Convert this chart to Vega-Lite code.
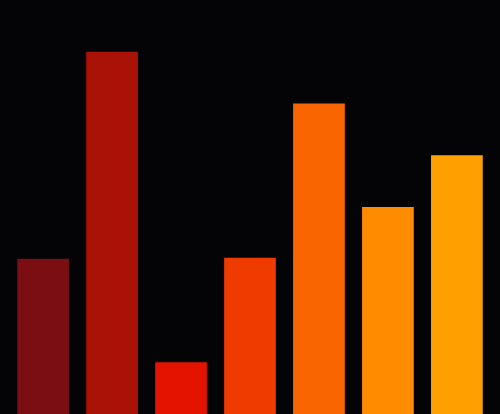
{
  "$schema": "https://vega.github.io/schema/vega-lite/v6.json",
  "autosize": {"type": "fit", "contains": "padding"},
  "width": 500,
  "height": 414,
  "padding": 0,
  "background": "#040406",
  "data": {"values": [
    {"k": "a", "v": 3},
    {"k": "b", "v": 7},
    {"k": "c", "v": 1},
    {"k": "d", "v": 3.02},
    {"k": "e", "v": 6},
    {"k": "f", "v": 4},
    {"k": "g", "v": 5}
  ]},
  "mark": "bar",
  "encoding": {
    "x": {"field": "k", "type": "nominal", "axis": null, "scale": {"paddingInner": 0.25, "paddingOuter": 0.25}},
    "y": {"field": "v", "type": "quantitative", "axis": null, "scale": {"domain": [0, 8], "nice": false}},
    "color": {
      "field": "k",
      "type": "nominal",
      "legend": null,
      "scale": {"range": ["#7a0e13", "#ab1206", "#e31300", "#ef3a00", "#f96500", "#ff8c00", "#ffa000"]}
    }
  },
  "config": {"view": {"stroke": null}}
}
